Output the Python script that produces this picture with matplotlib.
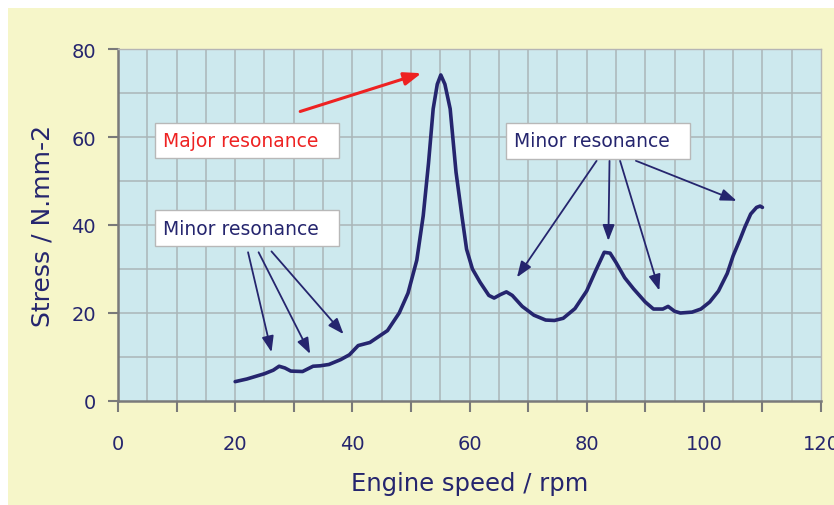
import numpy as np
import matplotlib.pyplot as plt
from matplotlib.patches import Rectangle

# engine speed (rpm) and stress (N/mm2)
speed = [20, 22, 25, 26.5, 27.5, 28.5, 29.5, 31.5, 33.3, 34.5, 36, 38, 39.5, 41, 43,
         46, 48, 49.5, 51, 52.1, 53, 53.8, 54.5, 55.1, 55.8, 56.7, 57.7, 58.7, 59.5,
         60.5, 61.8, 63.3, 64.2, 65.3, 66.3, 67.3, 69, 71, 73, 74.5, 76, 78, 80,
         81.5, 83, 84, 85, 86.5, 88, 90, 91.4, 93, 93.9, 95, 96, 98, 99.5, 101,
         102.5, 104, 105, 106.2, 107, 108, 109, 109.6, 110]
stress = [4.4, 5.0, 6.2, 7.0, 7.9, 7.5, 6.8, 6.7, 7.9, 8.0, 8.3, 9.4, 10.5, 12.6, 13.3,
          16.0, 20.0, 24.5, 32.0, 42.1, 54.0, 66.4, 72.0, 74.1, 72.0, 66.4, 52.0, 42.1, 34.5,
          30.0, 27.0, 24.0, 23.4, 24.2, 24.8, 24.0, 21.5, 19.5, 18.4, 18.3, 18.8, 21.0, 25.0,
          29.5, 33.8, 33.6, 31.5, 28.0, 25.5, 22.5, 20.9, 20.9, 21.5, 20.4, 20.0, 20.2, 20.9, 22.5,
          25.0, 29.0, 33.0, 36.8, 39.5, 42.5, 44.0, 44.3, 44.0]

x_ticks = [0, 20, 40, 60, 80, 100, 120]
y_ticks = [0, 20, 40, 60, 80]

navy = '#25256e'
plt.rcParams['font.family'] = 'DejaVu Sans'

fig = plt.figure(figsize=(8.34, 5.06), dpi=100)
fig.patch.set_facecolor('white')
fig.patches.append(Rectangle((8 / 834, 0), 1, 1 - 9 / 506, transform=fig.transFigure,
                             facecolor='#f6f6c9', edgecolor='none', zorder=-10))

ax = fig.add_axes([118 / 834, 1 - 402 / 506, 703 / 834, 352 / 506])
ax.set_facecolor('#cde9ee')
ax.set_xlim(0, 120)
ax.set_ylim(0, 80)

for gx in range(5, 120, 5):
    ax.axvline(gx, color='#aab6b8', lw=1.1, zorder=1)
for gy in range(10, 80, 10):
    ax.axhline(gy, color='#aab6b8', lw=1.1, zorder=1)

ax.plot(speed, stress, color=navy, lw=2.6, zorder=3, solid_capstyle='round',
        solid_joinstyle='round')

ax.set_xticks(x_ticks)
ax.set_xticks(range(10, 120, 20), minor=True)
ax.set_yticks(y_ticks)
ax.tick_params(axis='x', which='both', length=8, width=1.5, color='#7a7a7a',
               pad=16, labelsize=14, labelcolor=navy)
ax.tick_params(axis='y', length=7, width=1.5, color='#7a7a7a', pad=9,
               labelsize=14, labelcolor=navy)
for s in ['left', 'bottom']:
    ax.spines[s].set_color('#7a7a7a')
    ax.spines[s].set_linewidth(1.8)
for s in ['top', 'right']:
    ax.spines[s].set_color('#b5b5b5')
    ax.spines[s].set_linewidth(1)

ax.set_xlabel('Engine speed / rpm', fontsize=17.5, color=navy, labelpad=13)
ax.set_ylabel('Stress / N.mm-2', fontsize=18, color=navy, labelpad=12)

box = dict(boxstyle='square,pad=0.45', facecolor='white', edgecolor='#b8b8b8', lw=1)
head = '-|>,head_length=0.8,head_width=0.3'

# major resonance label and arrow
ax.text(7.7, 59.2, 'Major resonance  ', fontsize=13.5, color='#ee2222', va='center',
        bbox=box, zorder=5)
ax.annotate('', xy=(51.8, 74.5), xytext=(31.1, 65.8),
            arrowprops=dict(arrowstyle=head, color='#ee2222', lw=2.2, mutation_scale=13,
                            shrinkA=0, shrinkB=0))

# minor resonance labels and arrows
ax.text(7.7, 39.3, 'Minor resonance  ', fontsize=13.5, color=navy, va='center',
        bbox=box, zorder=5)
for start, end in [((22.2, 33.8), (26.2, 11.1)), ((24.0, 33.8), (32.8, 10.7)),
                   ((26.2, 34.0), (38.5, 15.2))]:
    ax.annotate('', xy=end, xytext=start,
                arrowprops=dict(arrowstyle=head, color=navy, lw=1.3, mutation_scale=12,
                                shrinkA=0, shrinkB=0))

ax.text(67.6, 59.1, 'Minor resonance  ', fontsize=13.5, color=navy, va='center',
        bbox=box, zorder=5)
for start, end in [((81.7, 54.6), (68.1, 28.1)), ((83.9, 54.6), (83.7, 36.4)),
                   ((85.7, 54.6), (92.4, 25.1)), ((88.4, 54.6), (105.6, 45.5))]:
    ax.annotate('', xy=end, xytext=start,
                arrowprops=dict(arrowstyle=head, color=navy, lw=1.3, mutation_scale=12,
                                shrinkA=0, shrinkB=0))

fig.savefig('out.png', dpi=100)
